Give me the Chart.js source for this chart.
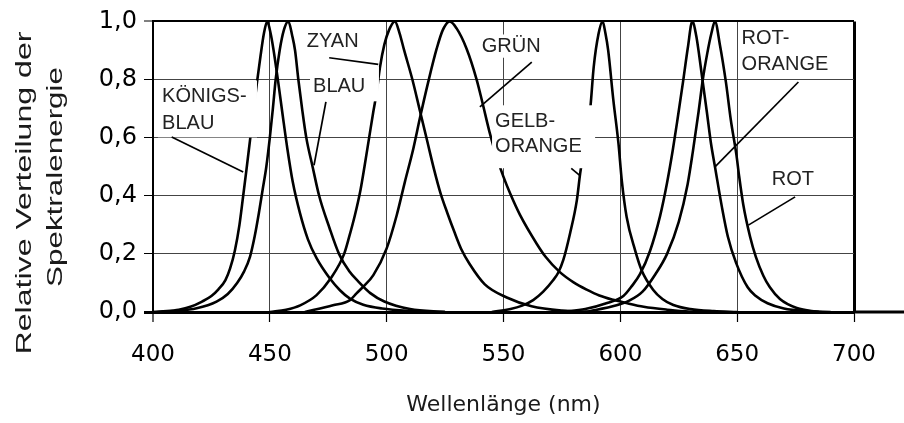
<!DOCTYPE html>
<html><head><meta charset="utf-8">
<script src="https://cdn.jsdelivr.net/npm/chart.js@4/dist/chart.umd.min.js"></script>
<style>html,body{margin:0;padding:0;background:#fff}canvas{display:block}</style>
</head><body>
<canvas id="c" width="904" height="423"></canvas>
<script>
// ---- tick labels / categories ----
const xTickValues = [400, 450, 500, 550, 600, 650, 700];
const yTickValues = [0, 0.2, 0.4, 0.6, 0.8, 1.0];
const seriesNames = ['KÖNIGSBLAU', 'BLAU', 'ZYAN', 'GRÜN', 'GELB-ORANGE', 'ROT-ORANGE', 'ROT'];

// ---- series values (wavelength nm, relative energy) ----
const koenigsblauWl  = [400, 406, 411, 416, 421, 425, 428, 431, 433, 435, 437, 438.6, 440, 441.5, 443, 444.5, 446, 447.5, 448.9, 450.3, 451.5, 453.6, 455.5, 457.5, 459.8, 462.9, 466.3, 470, 475.7, 480, 484.3, 490, 498, 510, 525];
const koenigsblauVal = [0, 0.003, 0.008, 0.018, 0.036, 0.055, 0.078, 0.11, 0.15, 0.21, 0.3, 0.4, 0.49, 0.59, 0.69, 0.79, 0.88, 0.96, 1.0, 0.96, 0.906, 0.79, 0.677, 0.562, 0.448, 0.34, 0.25, 0.185, 0.115, 0.075, 0.046, 0.025, 0.012, 0.004, 0];

const blauWl  = [400, 410, 418.7, 427.2, 432, 436, 439, 441.5, 443.5, 445.3, 446.9, 448.5, 450, 451.3, 452.5, 454.2, 456, 457.9, 459.6, 460.8, 462.2, 463.8, 465.6, 468.3, 471.1, 475.5, 479.6, 484, 488, 493, 499, 510, 525];
const blauVal = [0, 0.004, 0.013, 0.036, 0.062, 0.1, 0.14, 0.19, 0.26, 0.34, 0.42, 0.5, 0.6, 0.7, 0.8, 0.9, 0.97, 1.0, 0.95, 0.9, 0.8, 0.7, 0.6, 0.5, 0.4, 0.29, 0.2, 0.14, 0.104, 0.065, 0.036, 0.01, 0];

const zyanWl  = [450, 457, 463, 470, 476, 481.8, 484, 486.4, 488.8, 490.5, 492.5, 494.3, 495.8, 497.1, 499, 501, 503.5, 505.5, 507.5, 511, 514.3, 517.3, 520.3, 523, 526, 529, 532, 535.5, 542, 551.4, 562, 575, 590];
const zyanVal = [0, 0.008, 0.023, 0.058, 0.115, 0.2, 0.26, 0.333, 0.42, 0.5, 0.6, 0.69, 0.76, 0.84, 0.92, 0.97, 1.0, 0.96, 0.9, 0.8, 0.69, 0.59, 0.49, 0.41, 0.34, 0.275, 0.215, 0.165, 0.095, 0.05, 0.02, 0.005, 0];

const gruenWl  = [465, 477, 484.3, 487.2, 490, 494.3, 500, 504.3, 507.8, 511.4, 514.3, 517.8, 521.4, 524, 527, 530, 534.2, 538.5, 541, 544, 547, 550, 553, 557, 564.2, 568, 574, 580, 585.6, 591, 597, 603, 610, 620, 632];
const gruenVal = [0, 0.023, 0.041, 0.065, 0.087, 0.127, 0.219, 0.333, 0.448, 0.562, 0.67, 0.792, 0.906, 0.97, 1.0, 0.975, 0.906, 0.8, 0.72, 0.62, 0.535, 0.465, 0.405, 0.335, 0.235, 0.19, 0.138, 0.102, 0.077, 0.057, 0.042, 0.03, 0.018, 0.008, 0];

const gelbOrangeWl  = [545, 553, 558, 562.7, 567, 571.3, 573.4, 575.6, 578.5, 581.4, 582.8, 584.5, 586, 587.2, 588.6, 590.7, 592.4, 593.6, 594.8, 597, 599.2, 600.6, 602.7, 606.3, 609.1, 614.1, 618, 622.7, 630, 640, 650];
const gelbOrangeVal = [0, 0.01, 0.022, 0.041, 0.07, 0.11, 0.135, 0.179, 0.271, 0.385, 0.476, 0.56, 0.64, 0.706, 0.843, 0.958, 1.0, 0.96, 0.9, 0.73, 0.58, 0.454, 0.327, 0.213, 0.144, 0.076, 0.045, 0.024, 0.01, 0.003, 0];

const rotOrangeWl  = [575, 585, 594, 601.3, 605, 608.4, 612.7, 617, 620, 622.5, 624.6, 626.8, 628.9, 630.8, 632.5, 633.8, 635.3, 637, 638.8, 640.5, 643.5, 646, 649.5, 654.5, 658, 663, 670, 680, 690];
const rotOrangeVal = [0, 0.01, 0.03, 0.055, 0.09, 0.13, 0.21, 0.33, 0.445, 0.56, 0.67, 0.79, 0.91, 1.0, 0.95, 0.88, 0.79, 0.69, 0.58, 0.5, 0.36, 0.26, 0.17, 0.085, 0.055, 0.03, 0.012, 0.003, 0];

const rotWl  = [585, 598.4, 604, 609.5, 615, 620, 625, 628.8, 631, 633.5, 635.3, 637.2, 639, 640.5, 642.6, 645.2, 647.3, 649.7, 650.8, 652.6, 655.5, 658, 661.2, 664, 668.3, 675.5, 685];
const rotVal = [0, 0.023, 0.04, 0.07, 0.13, 0.2, 0.31, 0.44, 0.55, 0.69, 0.8, 0.89, 0.96, 1.0, 0.92, 0.79, 0.66, 0.54, 0.47, 0.37, 0.26, 0.19, 0.125, 0.085, 0.045, 0.014, 0];

const wlArrays  = [koenigsblauWl, blauWl, zyanWl, gruenWl, gelbOrangeWl, rotOrangeWl, rotWl];
const valArrays = [koenigsblauVal, blauVal, zyanVal, gruenVal, gelbOrangeVal, rotOrangeVal, rotVal];

// ---- curve labels (anchored in data units: nm, relative value) ----
const curveLabels = [
  { lines: ['KÖNIGS-', 'BLAU'], x: 403.9, baselines: [0.7216, 0.6289], box: [402.1, 0.797, 444.5, 0.601], leader: [[408.0, 0.602], [438.6, 0.482]] },
  { lines: ['ZYAN'], x: 465.8, baselines: [0.912], box: null, leader: [[475.4, 0.875], [496.4, 0.852]] },
  { lines: ['BLAU'], x: 468.5, baselines: [0.757], box: [467.2, 0.845, 496.7, 0.725], leader: [[474.0, 0.723], [468.9, 0.505]] },
  { lines: ['GRÜN'], x: 540.7, baselines: [0.895], box: [539.8, 0.955, 567.5, 0.875], leader: [[562.1, 0.860], [539.9, 0.7055]] },
  { lines: ['GELB-', 'ORANGE'], x: 546.4, baselines: [0.6368, 0.5509], box: [545.1, 0.7113, 589.2, 0.4948], leader: [[579.0, 0.494], [582.6, 0.47]] },
  { lines: ['ROT-', 'ORANGE'], x: 651.9, baselines: [0.9234, 0.8316], box: [651.0, 0.99, 692.3, 0.814], leader: [[676.2, 0.7914], [640.5, 0.4993]] },
  { lines: ['ROT'], x: 664.8, baselines: [0.4364], box: null, leader: [[674.8, 0.3962], [654.8, 0.299]] }
];

const yTitleLines = [
  { text: 'Relative Verteilung der', baselineX: 31, centerY: 193, length: 323 },
  { text: 'Spektralenergie', baselineX: 62, centerY: 177, length: 220 }
];

const labelPlugin = {
  id: 'curveLabels',
  afterDatasetsDraw(chart) {
    const { ctx, scales: { x, y } } = chart;
    ctx.save();
    ctx.fillStyle = '#fff';
    for (const a of curveLabels) {
      if (!a.box) continue;
      const x0 = x.getPixelForValue(a.box[0]), y0 = y.getPixelForValue(a.box[1]);
      const x1 = x.getPixelForValue(a.box[2]), y1 = y.getPixelForValue(a.box[3]);
      ctx.fillRect(x0, y0, x1 - x0, y1 - y0);
    }
    ctx.strokeStyle = '#000';
    ctx.lineWidth = 1.7;
    for (const a of curveLabels) {
      ctx.beginPath();
      ctx.moveTo(x.getPixelForValue(a.leader[0][0]), y.getPixelForValue(a.leader[0][1]));
      ctx.lineTo(x.getPixelForValue(a.leader[1][0]), y.getPixelForValue(a.leader[1][1]));
      ctx.stroke();
    }
    ctx.fillStyle = '#222';
    ctx.font = '20px "Liberation Sans"';
    ctx.textAlign = 'left';
    ctx.textBaseline = 'alphabetic';
    for (const a of curveLabels) {
      a.lines.forEach((t, i) => ctx.fillText(t, x.getPixelForValue(a.x), y.getPixelForValue(a.baselines[i])));
    }
    ctx.restore();
  }
};

const yTitlePlugin = {
  id: 'yTitle',
  afterDraw(chart) {
    const ctx = chart.ctx;
    ctx.save();
    ctx.fillStyle = '#1a1a1a';
    ctx.font = '22px "Liberation Sans"';
    ctx.textAlign = 'center';
    ctx.textBaseline = 'alphabetic';
    for (const l of yTitleLines) {
      const w = ctx.measureText(l.text).width;
      ctx.save();
      ctx.translate(l.baselineX, l.centerY);
      ctx.rotate(-Math.PI / 2);
      ctx.scale(l.length / w, 1);
      ctx.fillText(l.text, 0, 0);
      ctx.restore();
    }
    ctx.restore();
  }
};

const baselinePlugin = {
  id: 'baselineExt',
  afterDraw(chart) {
    const { ctx, chartArea } = chart;
    ctx.save();
    ctx.strokeStyle = '#000';
    ctx.lineWidth = 3;
    ctx.beginPath();
    ctx.moveTo(chartArea.right, chartArea.bottom);
    ctx.lineTo(chart.width, chartArea.bottom);
    ctx.stroke();
    ctx.restore();
  }
};

new Chart(document.getElementById('c'), {
  type: 'line',
  data: {
    datasets: seriesNames.map((name, i) => ({
      label: name,
      data: wlArrays[i].map((w, j) => ({ x: w, y: valArrays[i][j] })),
      borderColor: '#000',
      borderWidth: 2.6,
      pointRadius: 0,
      fill: false,
      cubicInterpolationMode: 'monotone'
    }))
  },
  options: {
    responsive: false,
    animation: false,
    devicePixelRatio: 1,
    layout: { padding: { top: 21, right: 50, bottom: 0, left: 0 } },
    plugins: { legend: { display: false }, tooltip: { enabled: false } },
    scales: {
      x: {
        type: 'linear', min: 400, max: 700,
        afterBuildTicks: s => { s.ticks = xTickValues.map(v => ({ value: v })); },
        afterFit: s => { s.height = 111; },
        ticks: { font: { family: '"DejaVu Sans"', size: 23 }, color: '#000', padding: 19, maxRotation: 0, autoSkip: false },
        grid: {
          color: c => (c.tick && (c.tick.value === 400 || c.tick.value === 700)) ? '#000' : '#444',
          lineWidth: c => (c.tick && c.tick.value === 700) ? 3 : (c.tick && c.tick.value === 400 ? 2 : 1),
          tickLength: 10, tickColor: '#000', tickWidth: 1.2
        },
        border: { display: true, color: '#000', width: 3 },
        title: { display: true, text: 'Wellenlänge (nm)', font: { family: '"DejaVu Sans"', size: 22 }, color: '#1a1a1a', padding: { top: 0, bottom: 5 } }
      },
      y: {
        min: 0, max: 1,
        afterBuildTicks: s => { s.ticks = yTickValues.map(v => ({ value: v })); },
        afterFit: s => { s.width = 153; },
        ticks: { callback: v => Number(v).toFixed(1).replace('.', ','), font: { family: '"DejaVu Sans"', size: 24 }, color: '#000', padding: 7 },
        grid: {
          color: c => (c.tick && (c.tick.value === 0 || c.tick.value === 1)) ? '#000' : '#444',
          lineWidth: c => (c.tick && c.tick.value === 0) ? 3 : (c.tick && c.tick.value === 1 ? 2 : 1),
          tickLength: 9, tickColor: '#000',
          tickWidth: c => (c.tick && c.tick.value === 0) ? 3 : 1
        },
        border: { display: true, color: '#000', width: 2 }
      }
    }
  },
  plugins: [labelPlugin, yTitlePlugin, baselinePlugin]
});
</script>
</body></html>
